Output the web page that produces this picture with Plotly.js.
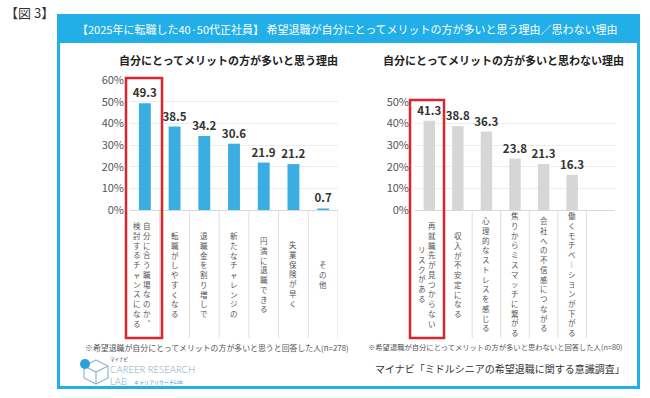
<!DOCTYPE html>
<html><head><meta charset="utf-8">
<script src="https://cdn.plot.ly/plotly-3.0.1.min.js"></script>
<style>html,body{margin:0;padding:0;background:#fff}#chart{width:650px;height:398px}</style>
</head><body><div id="chart"></div>
<script>
// ---- data ----
const leftCategories = ["自分に合う職場なのか、\n検討するチャンスになる","転職がしやすくなる","退職金を割り増しで","新たなチャレンジの","円満に退職できる","失業保険が早く","その他"];
const leftValues = [49.3, 38.5, 34.2, 30.6, 21.9, 21.2, 0.7];
const rightCategories = ["再就職先が見つからない\nリスクがある","収入が不安定になる","心理的なストレスを感じる","焦りからミスマッチに繋がる","会社への不信感につながる","働くモチベーションが下がる"];
const rightValues = [41.3, 38.8, 36.3, 23.8, 21.3, 16.3];
const leftTicks = [0, 10, 20, 30, 40, 50, 60];
const rightTicks = [0, 10, 20, 30, 40, 50];
const figureLabel = "【図 3】";
const headerText = "【2025年に転職した40·50代正社員】 希望退職が自分にとってメリットの方が多いと思う理由／思わない理由";
const leftTitle = "自分にとってメリットの方が多いと思う理由";
const rightTitle = "自分にとってメリットの方が多いと思わない理由";
const leftNote = "※希望退職が自分にとってメリットの方が多いと思うと回答した人(n=278)";
const rightNote = "※希望退職が自分にとってメリットの方が多いと思わないと回答した人(n=80)";
const sourceText = "マイナビ「ミドルシニアの希望退職に関する意識調査」";

// ---- helpers ----
const W = 650, H = 398;
const px = x => x / W;
const py = y => 1 - y / H;
const FONT = "Noto Sans CJK JP, Noto Sans, sans-serif";
const BLUE = "#22aee6";
const vertMap = {"ー": "︱", "、": "︑"};

const annotations = [];
const shapes = [];

function verticalLabels(cats, xref) {
  cats.forEach((cat) => {
    const cols = cat.split("\n");
    cols.forEach((col, c) => {
      let xs = 0;
      if (cols.length === 2) xs = (c === 0) ? 2.5 : -7.5;
      annotations.push({
        xref: xref, yref: "paper", x: cat, y: py(274), xshift: xs,
        text: Array.from(col).map(ch => vertMap[ch] || ch).join("<br>"),
        showarrow: false, xanchor: "center", yanchor: "middle", align: "center", borderpad: 0,
        font: {family: FONT, size: 7.5, color: "#555"}
      });
    });
  });
}
verticalLabels(leftCategories, "x");
verticalLabels(rightCategories, "x2");

// table separators
leftCategories.forEach((_, i) => {
  shapes.push({type: "line", xref: "x", yref: "paper", x0: i + 0.5, x1: i + 0.5, y0: py(210), y1: py(338), line: {color: "#dedede", width: 1}});
});
rightCategories.forEach((_, i) => {
  shapes.push({type: "line", xref: "x2", yref: "paper", x0: i + 0.5, x1: i + 0.5, y0: py(210), y1: py(338), line: {color: "#dedede", width: 1}});
});

// header and frame
shapes.push({type: "rect", xref: "paper", yref: "paper", x0: px(57), x1: px(640), y0: py(14), y1: py(43), fillcolor: BLUE, line: {width: 0}, layer: "below"});
shapes.push({type: "rect", xref: "paper", yref: "paper", x0: px(58.5), x1: px(638.5), y0: py(15.5), y1: py(387.5), line: {color: BLUE, width: 3}});
// red highlight boxes
shapes.push({type: "rect", xref: "paper", yref: "paper", x0: px(126), x1: px(162), y0: py(78), y1: py(338), line: {color: "#d9252b", width: 2.5}});
shapes.push({type: "rect", xref: "paper", yref: "paper", x0: px(410), x1: px(444), y0: py(100), y1: py(338), line: {color: "#d9252b", width: 2.5}});

// logo icon (cube outline + dot)
function pathFrom(pts, close) {
  return pts.map((p, k) => (k ? "L" : "M") + px(p[0]).toFixed(5) + "," + py(p[1]).toFixed(5)).join(" ") + (close ? " Z" : "");
}
const cx = 96, cy = 372, r = 12;
shapes.push({type: "path", xref: "paper", yref: "paper", path: pathFrom([[cx, cy - r], [cx + r, cy - r / 2], [cx + r, cy + r / 2], [cx, cy + r], [cx - r, cy + r / 2], [cx - r, cy - r / 2]], true), line: {color: "#8fb6d0", width: 1.2}});
shapes.push({type: "path", xref: "paper", yref: "paper", path: pathFrom([[cx - r, cy - r / 2], [cx, cy], [cx + r, cy - r / 2]], false), line: {color: "#8fb6d0", width: 1.2}});
shapes.push({type: "path", xref: "paper", yref: "paper", path: pathFrom([[cx, cy], [cx, cy + r]], false), line: {color: "#8fb6d0", width: 1.2}});
shapes.push({type: "circle", xref: "paper", yref: "paper", x0: px(80), x1: px(90), y0: py(359), y1: py(369), fillcolor: "#2b9fd9", line: {width: 0}});

// texts
function txt(text, x, y, size, color, opts) {
  annotations.push(Object.assign({xref: "paper", yref: "paper", x: px(x), y: py(y), text: text, showarrow: false,
    xanchor: "left", yanchor: "middle", borderpad: 0, font: {family: FONT, size: size, color: color}}, opts || {}));
}
const logoFont = {family: "Lato, Noto Sans, sans-serif", size: 9.5, color: "#7ea7c2", weight: 300};
txt(figureLabel, 4, 12, 13, "#333");
txt(headerText, 347, 28.5, 11, "#ffffff", {xanchor: "center"});
txt(leftTitle, 228, 60, 11, "#222", {xanchor: "center", font: {family: FONT, size: 11, color: "#222", weight: "bold"}});
txt(rightTitle, 503, 60, 11, "#222", {xanchor: "center", font: {family: FONT, size: 11, color: "#222", weight: "bold"}});
txt(leftNote, 84, 347, 7.9, "#555");
txt(rightNote, 367, 347, 7.3, "#555");
txt(sourceText, 626, 368, 10, "#333", {xanchor: "right"});
txt("マイナビ", 109, 359.5, 4.5, "#333");
txt("CAREER RESEARCH<br>LAB", 109, 375.5, 9.5, "#7ea7c2", {align: "left", font: logoFont});
txt("キャリアリサーチLab", 133, 381.5, 5, "#3d8fc6");

const valueFont = {family: FONT, size: 11.5, color: "#333", weight: "bold"};

const traces = [
  {type: "bar", x: leftCategories, y: leftValues, xaxis: "x", yaxis: "y",
   marker: {color: "#3aaee3"}, texttemplate: "%{y:.1f}", textposition: "outside",
   constraintext: "none", cliponaxis: false, textfont: valueFont, hoverinfo: "skip"},
  {type: "bar", x: rightCategories, y: rightValues, xaxis: "x2", yaxis: "y2",
   marker: {color: "#d6d6d6"}, texttemplate: "%{y:.1f}", textposition: "outside",
   constraintext: "none", cliponaxis: false, textfont: valueFont, hoverinfo: "skip"}
];

const yCommon = {
  showline: false, gridcolor: "#ececec", gridwidth: 1, zeroline: true, zerolinecolor: "#d8d8d8",
  ticks: "", ticklabelstandoff: 5, tickfont: {family: FONT, size: 11, color: "#555"}, fixedrange: true
};
const xCommon = {type: "category", showticklabels: false, showgrid: false, zeroline: false, showline: false, ticks: "", range: [-0.5, 6.5], fixedrange: true};

const layout = {
  width: W, height: H, margin: {l: 0, r: 0, t: 0, b: 0},
  paper_bgcolor: "#ffffff", plot_bgcolor: "rgba(0,0,0,0)",
  showlegend: false, bargap: 0.6, hovermode: false,
  xaxis: Object.assign({}, xCommon, {domain: [px(130), px(338)], anchor: "y"}),
  yaxis: Object.assign({}, yCommon, {domain: [py(210), py(80)], range: [0, 60], tickvals: leftTicks, ticktext: leftTicks.map(v => v + "%"), anchor: "x"}),
  xaxis2: Object.assign({}, xCommon, {domain: [px(415), px(615)], anchor: "y2"}),
  yaxis2: Object.assign({}, yCommon, {domain: [py(210), py(102)], range: [0, 50], tickvals: rightTicks, ticktext: rightTicks.map(v => v + "%"), anchor: "x2"}),
  shapes: shapes, annotations: annotations
};

Plotly.newPlot("chart", traces, layout, {displayModeBar: false, staticPlot: true});
</script></body></html>
